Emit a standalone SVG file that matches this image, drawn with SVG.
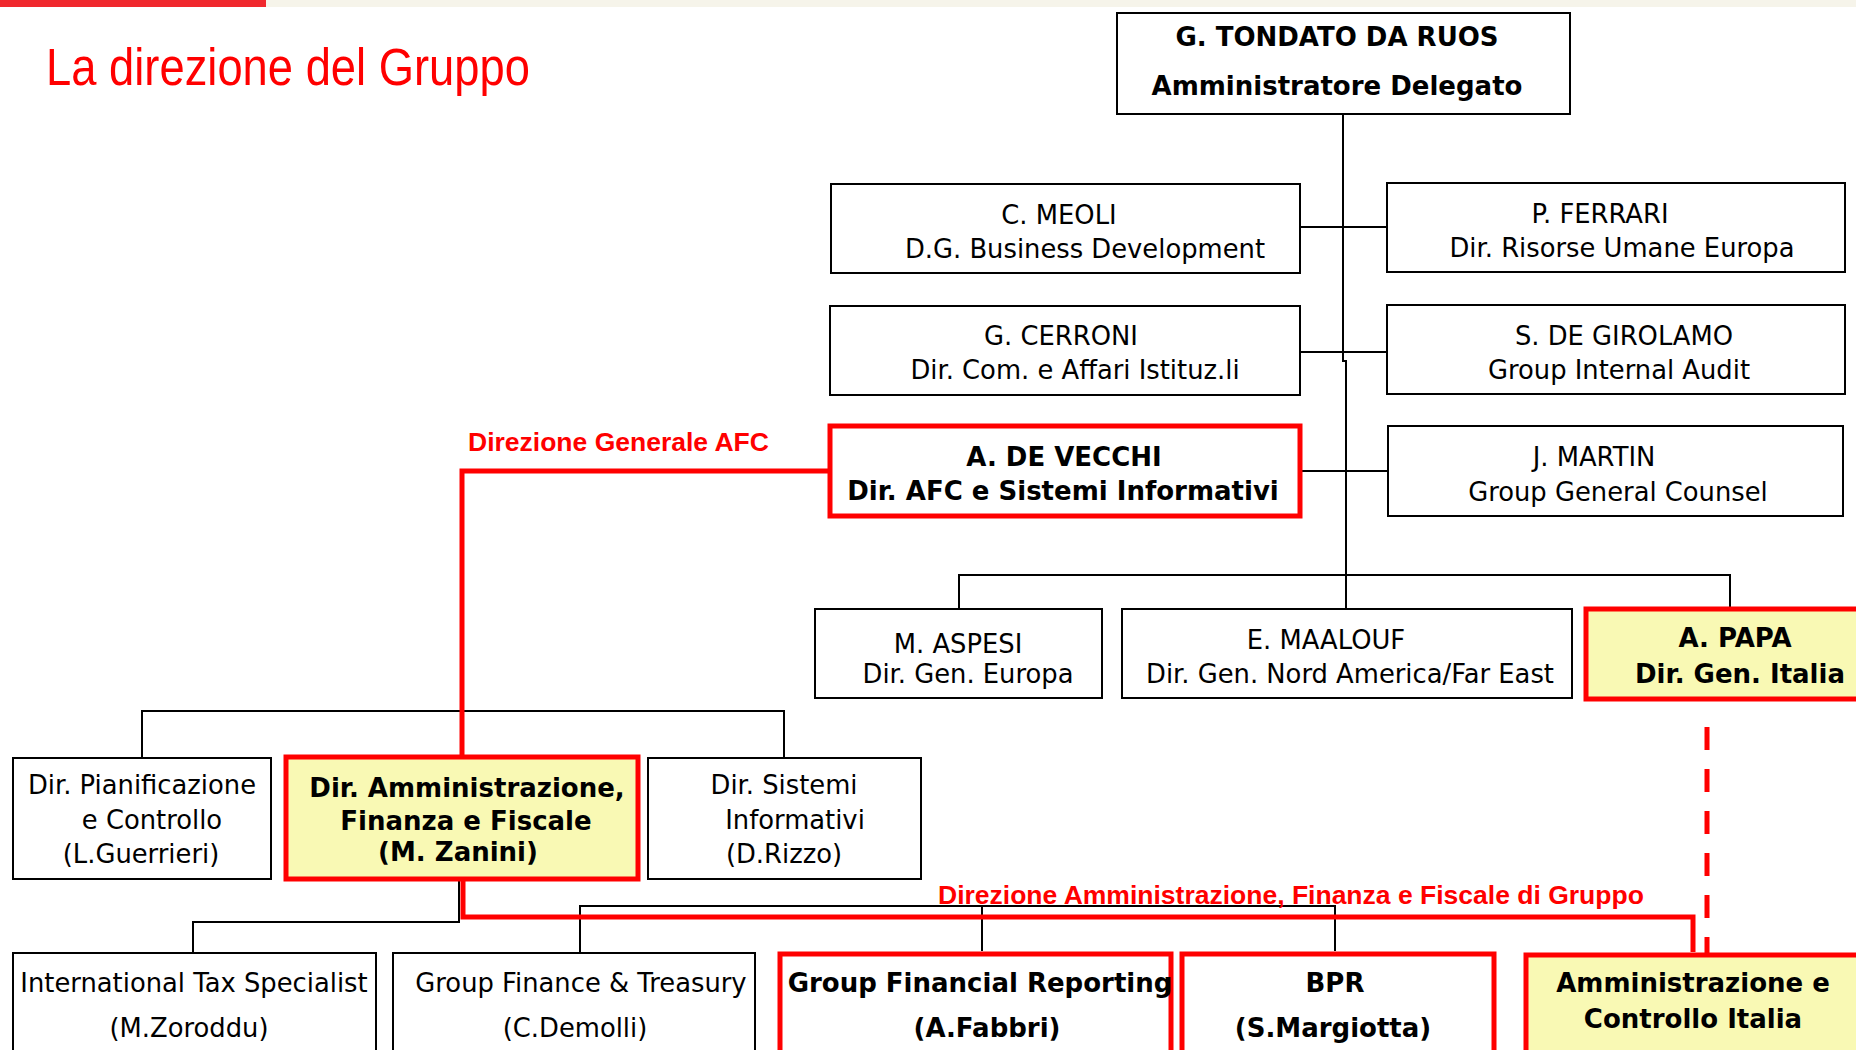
<svg xmlns="http://www.w3.org/2000/svg" width="1856" height="1050" viewBox="0 0 1856 1050">
<defs>
<style>
.box{fill:#fff;stroke:#000;stroke-width:2}
.rbox{fill:#fff;stroke:#ff0000;stroke-width:5}
.ybox{fill:#f9f9b4;stroke:#ff0000;stroke-width:5}
.t{font-family:"DejaVu Sans",Verdana,sans-serif;font-size:25.8px;fill:#000;text-anchor:middle}
.b{font-family:"DejaVu Sans",Verdana,sans-serif;font-size:26px;font-weight:bold;fill:#000;text-anchor:middle}
.lbl{font-family:"Liberation Sans",Arial,sans-serif;font-size:26.5px;font-weight:bold;fill:#ff0000}
.ln{fill:none;stroke:#000;stroke-width:2}
.rl{fill:none;stroke:#ff0000;stroke-width:5}
</style>
</defs>
<rect width="1856" height="1050" fill="#fff"/>
<rect x="0" y="0" width="266" height="7" fill="#f0282e"/>
<rect x="266" y="0" width="1590" height="7" fill="#f6f4ea"/>
<text x="46" y="85" font-family="Liberation Sans, Arial, sans-serif" font-size="51" fill="#ff0000" textLength="484" lengthAdjust="spacingAndGlyphs">La direzione del Gruppo</text>

<g id="connectors">
<path class="ln" d="M1343 114 V361 H1346 V609"/>
<path class="ln" d="M1300 227 H1387"/>
<path class="ln" d="M1300 352 H1387"/>
<path class="ln" d="M1300 471 H1387"/>
<path class="ln" d="M959 609 V575 H1730 V607"/>
<path class="ln" d="M142 758 V711 H784 V758"/>
<path class="ln" d="M459 881 V922 H193 V953"/>
<path class="ln" d="M580 953 V906 H1335 V951"/>
<path class="ln" d="M982 906 V951"/>
<path class="rl" stroke-width="4" d="M830 471 H462 V755"/>
<path class="rl" stroke-width="6" d="M463 881 V917 H1693 V952"/>
<path class="rl" stroke-dasharray="23 19" d="M1707 727 V962"/>
<text class="lbl" x="468" y="451">Direzione Generale AFC</text>
<text class="lbl" x="938" y="904">Direzione Amministrazione, Finanza e Fiscale di Gruppo</text>
</g>

<g id="tondato">
<rect class="box" x="1117" y="13" width="453" height="101"/>
<text class="b" x="1337" y="46">G. TONDATO DA RUOS</text>
<text class="b" x="1337" y="95">Amministratore Delegato</text>
</g>
<g id="meoli">
<rect class="box" x="831" y="184" width="469" height="89"/>
<text class="t" x="1059" y="224">C. MEOLI</text>
<text class="t" x="1085" y="258">D.G. Business Development</text>
</g>
<g id="ferrari">
<rect class="box" x="1387" y="183" width="458" height="89"/>
<text class="t" x="1600" y="223">P. FERRARI</text>
<text class="t" x="1622" y="257">Dir. Risorse Umane Europa</text>
</g>
<g id="cerroni">
<rect class="box" x="830" y="306" width="470" height="89"/>
<text class="t" x="1061" y="345">G. CERRONI</text>
<text class="t" x="1075" y="379">Dir. Com. e Affari Istituz.li</text>
</g>
<g id="degirolamo">
<rect class="box" x="1387" y="305" width="458" height="89"/>
<text class="t" x="1624" y="345">S. DE GIROLAMO</text>
<text class="t" x="1619" y="379">Group Internal Audit</text>
</g>
<g id="devecchi">
<rect class="rbox" x="830" y="426" width="470" height="90"/>
<text class="b" x="1064" y="466">A. DE VECCHI</text>
<text class="b" x="1063" y="500">Dir. AFC e Sistemi Informativi</text>
</g>
<g id="martin">
<rect class="box" x="1388" y="426" width="455" height="90"/>
<text class="t" x="1594" y="466">J. MARTIN</text>
<text class="t" x="1618" y="501">Group General Counsel</text>
</g>
<g id="aspesi">
<rect class="box" x="815" y="609" width="287" height="89"/>
<text class="t" x="958" y="653">M. ASPESI</text>
<text class="t" x="968" y="683">Dir. Gen. Europa</text>
</g>
<g id="maalouf">
<rect class="box" x="1122" y="609" width="450" height="89"/>
<text class="t" x="1326" y="649">E. MAALOUF</text>
<text class="t" x="1350" y="683">Dir. Gen. Nord America/Far East</text>
</g>
<g id="papa">
<rect class="ybox" x="1586" y="609" width="290" height="90"/>
<text class="b" x="1735" y="647">A. PAPA</text>
<text class="b" x="1740" y="683">Dir. Gen. Italia</text>
</g>
<g id="pianificazione">
<rect class="box" x="13" y="758" width="258" height="121"/>
<text class="t" x="142" y="794">Dir. Pianificazione</text>
<text class="t" x="152" y="829">e Controllo</text>
<text class="t" x="141" y="863">(L.Guerrieri)</text>
</g>
<g id="zanini">
<rect class="ybox" x="286" y="757" width="352" height="122"/>
<text class="b" x="467" y="797">Dir. Amministrazione,</text>
<text class="b" x="466" y="830">Finanza e Fiscale</text>
<text class="b" x="458" y="861">(M. Zanini)</text>
</g>
<g id="sistemi">
<rect class="box" x="648" y="758" width="273" height="121"/>
<text class="t" x="784" y="794">Dir. Sistemi</text>
<text class="t" x="795" y="829">Informativi</text>
<text class="t" x="784" y="863">(D.Rizzo)</text>
</g>
<g id="tax">
<rect class="box" x="13" y="953" width="363" height="110"/>
<text class="t" x="194" y="992">International Tax Specialist</text>
<text class="t" x="189" y="1037">(M.Zoroddu)</text>
</g>
<g id="treasury">
<rect class="box" x="393" y="953" width="362" height="110"/>
<text class="t" x="581" y="992">Group Finance &amp; Treasury</text>
<text class="t" x="575" y="1037">(C.Demolli)</text>
</g>
<g id="gfr">
<rect class="rbox" stroke-width="6" x="780" y="954" width="391" height="110"/>
<text class="b" x="980" y="992">Group Financial Reporting</text>
<text class="b" x="987" y="1037">(A.Fabbri)</text>
</g>
<g id="bpr">
<rect class="rbox" stroke-width="6" x="1182" y="954" width="312" height="110"/>
<text class="b" x="1335" y="992">BPR</text>
<text class="b" x="1333" y="1037">(S.Margiotta)</text>
</g>
<g id="amm-italia">
<rect class="ybox" stroke-width="6" x="1526" y="955" width="350" height="110"/>
<text class="b" x="1693" y="992">Amministrazione e</text>
<text class="b" x="1693" y="1028">Controllo Italia</text>
</g>
</svg>
